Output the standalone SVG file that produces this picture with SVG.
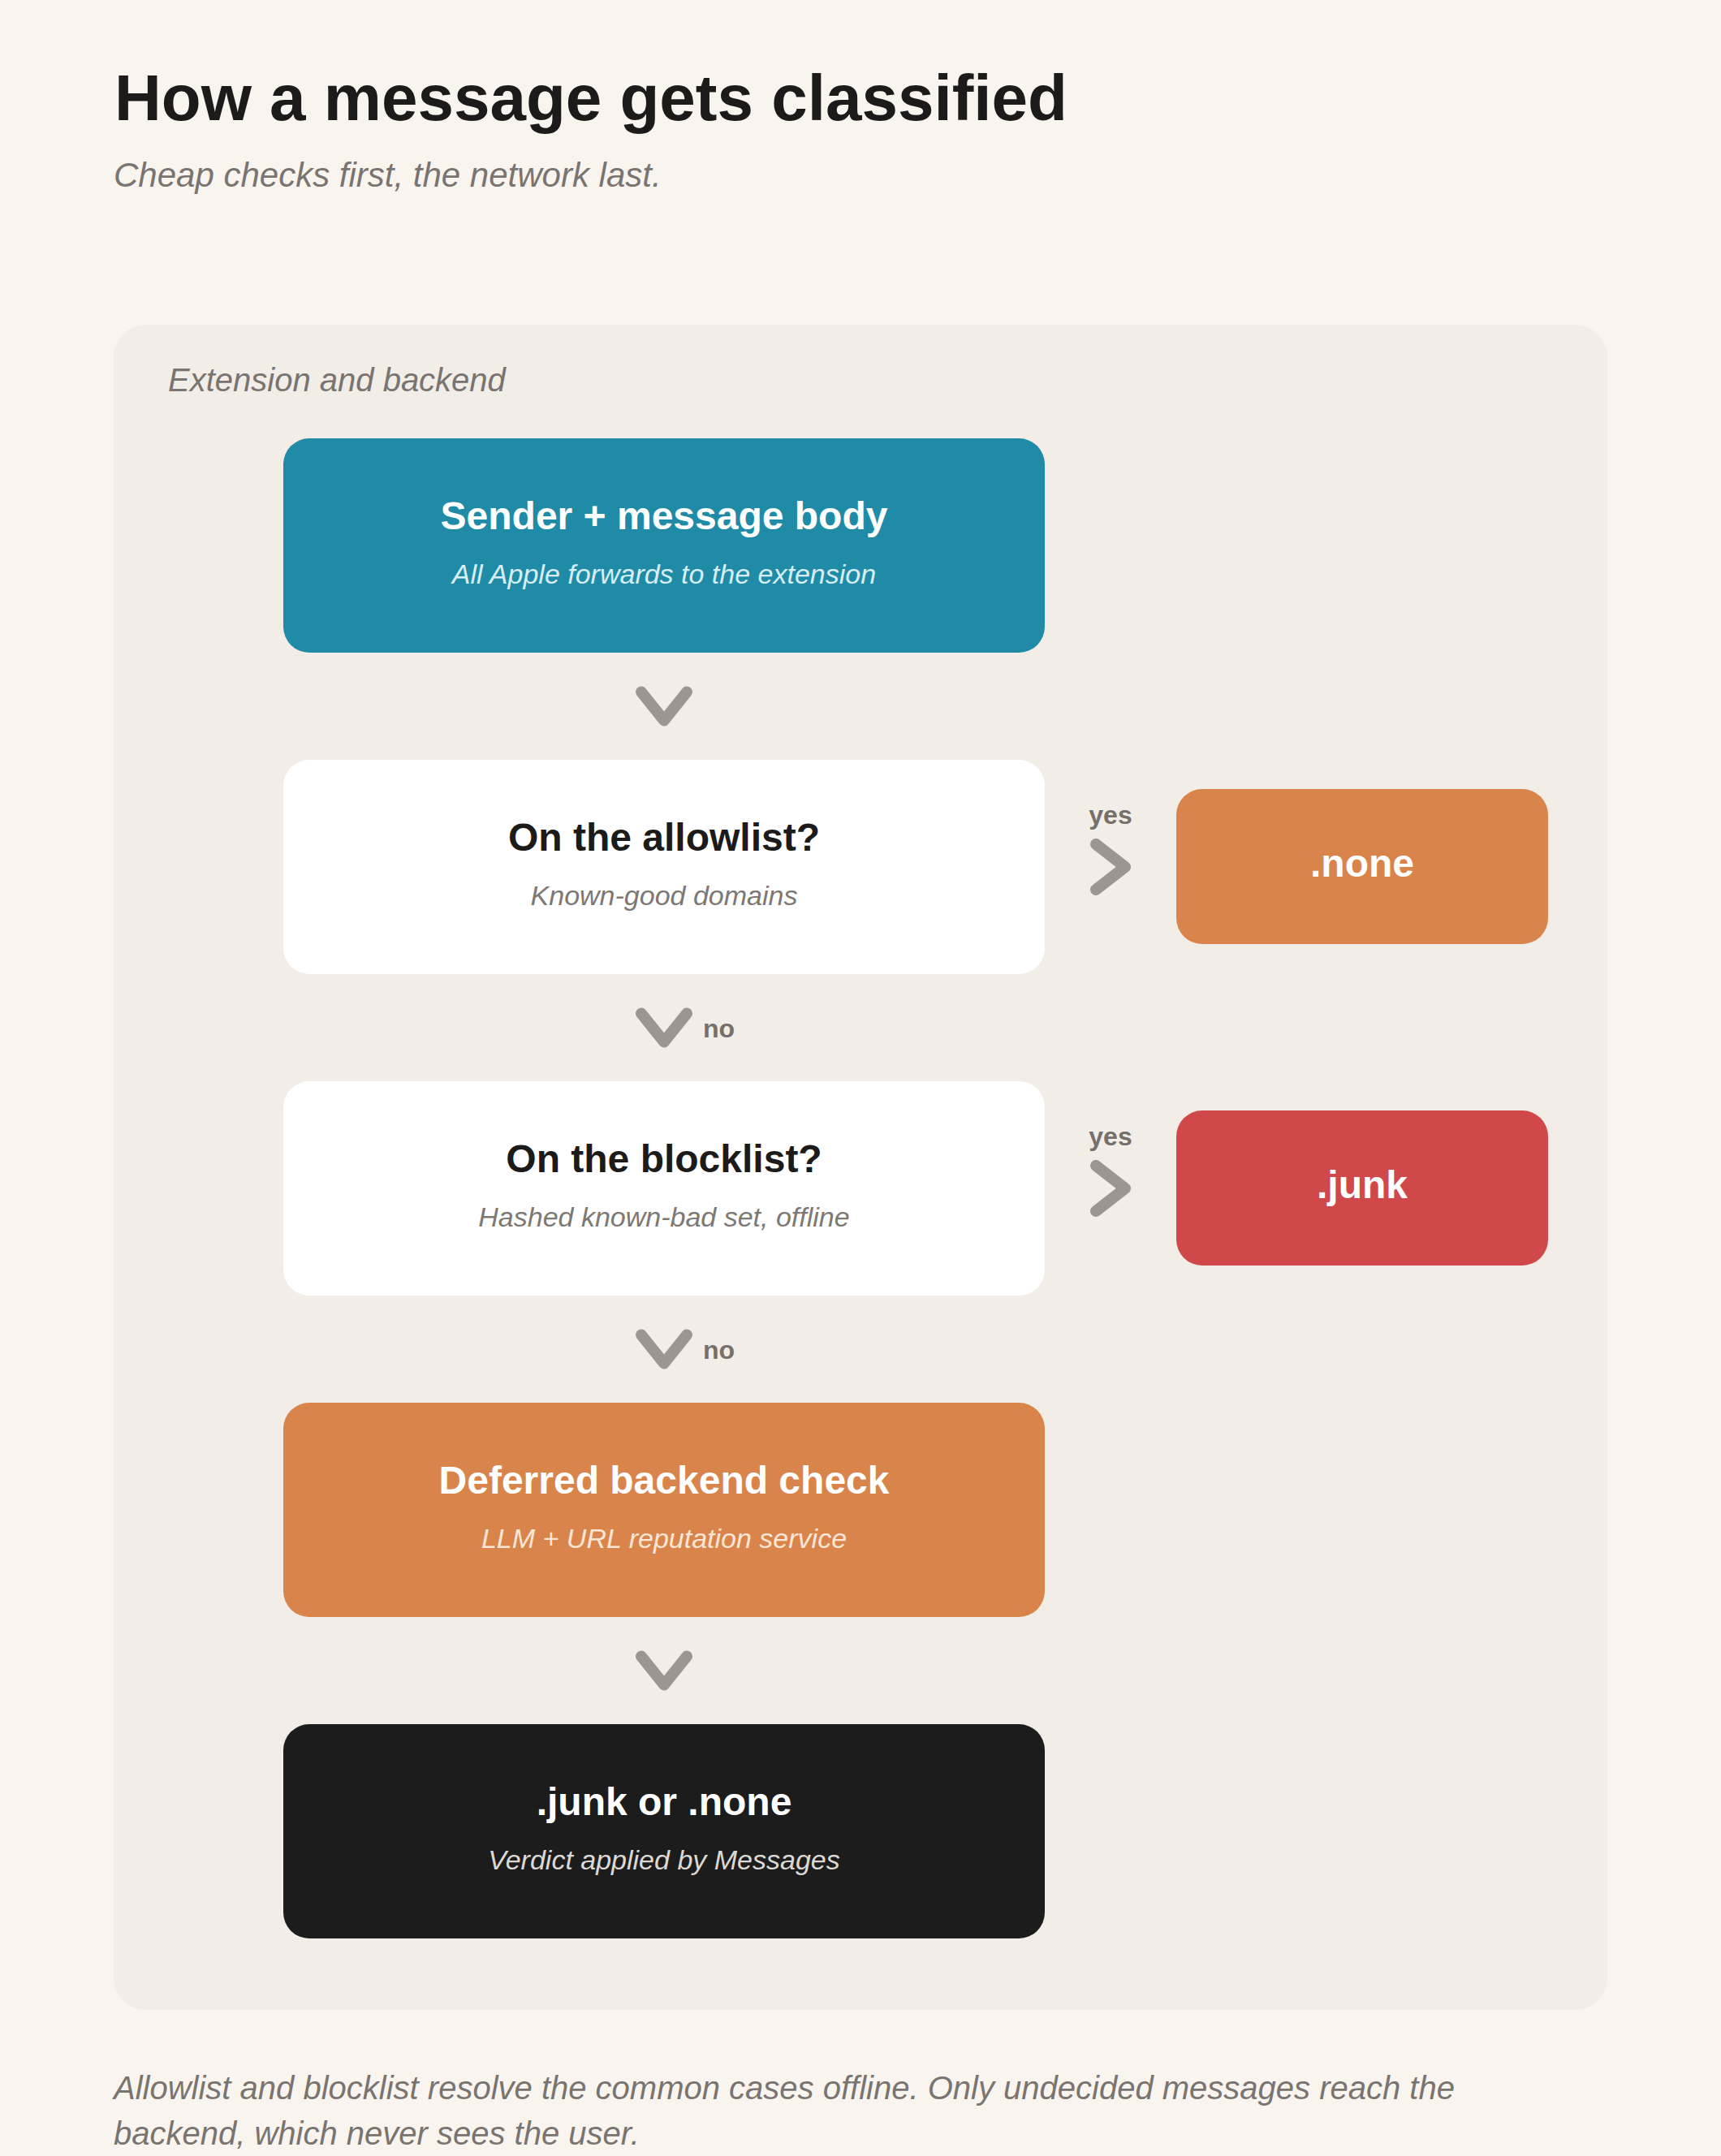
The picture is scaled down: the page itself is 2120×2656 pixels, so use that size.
<svg xmlns="http://www.w3.org/2000/svg" xmlns:xlink="http://www.w3.org/1999/xlink" width="2120" height="2656" viewBox="0 0 2120 2656">
  <style>
    .sans { font-family: "Liberation Sans", Arial, Helvetica, sans-serif; }
    .title { font-size: 80px; font-weight: 700; fill: #1c1b1a; }
    .subtitle { font-size: 42px; font-style: italic; fill: #7a7470; }
    .panel-label { font-size: 40px; font-style: italic; fill: #7a7470; }
    .footer { font-size: 40px; font-style: italic; fill: #7a7470; }
    .node-title { font-size: 48px; font-weight: 700; text-anchor: middle; }
    .node-sub { font-size: 34px; font-style: italic; text-anchor: middle; }
    .edge-label { font-size: 32px; font-weight: 700; fill: #75706b; }
    .chev { fill: none; stroke: #9b9790; stroke-width: 14; stroke-linecap: round; stroke-linejoin: round; }
  </style>
  <defs>
    <path id="chev-down" class="chev" d="M-28,-17.5 L0,17.5 L28,-17.5"/>
    <path id="chev-right" class="chev" d="M-18,-28 L18,0 L-18,28"/>
  </defs>

  <rect x="0" y="0" width="2120" height="2656" fill="#faf4ef"/>

  <text class="sans title" x="141" y="148">How a message gets classified</text>
  <text class="sans subtitle" x="140" y="230">Cheap checks first, the network last.</text>

  <g id="panel">
    <rect x="140" y="400" width="1840" height="2076" rx="40" ry="40" fill="#f2ede6"/>
    <text class="sans panel-label" x="207" y="482">Extension and backend</text>
  </g>

  <g id="connectors">
    <use xlink:href="#chev-down" href="#chev-down" x="818" y="870"/>
    <use xlink:href="#chev-down" href="#chev-down" x="818" y="1266"/>
    <text class="sans edge-label" x="866" y="1278">no</text>
    <use xlink:href="#chev-down" href="#chev-down" x="818" y="1662"/>
    <text class="sans edge-label" x="866" y="1674">no</text>
    <use xlink:href="#chev-down" href="#chev-down" x="818" y="2058"/>
    <text class="sans edge-label" x="1368" y="1015" text-anchor="middle">yes</text>
    <use xlink:href="#chev-right" href="#chev-right" x="1368" y="1068"/>
    <text class="sans edge-label" x="1368" y="1411" text-anchor="middle">yes</text>
    <use xlink:href="#chev-right" href="#chev-right" x="1368" y="1464"/>
  </g>

  <g id="node-input">
    <rect x="349" y="540" width="938" height="264" rx="32" ry="32" fill="#1f8ba7"/>
    <text class="sans node-title" x="818" y="652" fill="#ffffff">Sender + message body</text>
    <text class="sans node-sub" x="818" y="719" fill="#d6eef4">All Apple forwards to the extension</text>
  </g>

  <g id="node-allowlist">
    <rect x="349" y="936" width="938" height="264" rx="32" ry="32" fill="#ffffff"/>
    <text class="sans node-title" x="818" y="1048" fill="#1c1b1a">On the allowlist?</text>
    <text class="sans node-sub" x="818" y="1115" fill="#7d7873">Known-good domains</text>
  </g>

  <g id="node-none">
    <rect x="1449" y="972" width="458" height="191" rx="32" ry="32" fill="#d9844a"/>
    <text class="sans node-title" x="1678" y="1080" fill="#ffffff">.none</text>
  </g>

  <g id="node-blocklist">
    <rect x="349" y="1332" width="938" height="264" rx="32" ry="32" fill="#ffffff"/>
    <text class="sans node-title" x="818" y="1444" fill="#1c1b1a">On the blocklist?</text>
    <text class="sans node-sub" x="818" y="1511" fill="#7d7873">Hashed known-bad set, offline</text>
  </g>

  <g id="node-junk">
    <rect x="1449" y="1368" width="458" height="191" rx="32" ry="32" fill="#d0484a"/>
    <text class="sans node-title" x="1678" y="1476" fill="#ffffff">.junk</text>
  </g>

  <g id="node-backend">
    <rect x="349" y="1728" width="938" height="264" rx="32" ry="32" fill="#d9844a"/>
    <text class="sans node-title" x="818" y="1840" fill="#ffffff">Deferred backend check</text>
    <text class="sans node-sub" x="818" y="1907" fill="#fbe6d6">LLM + URL reputation service</text>
  </g>

  <g id="node-verdict">
    <rect x="349" y="2124" width="938" height="264" rx="32" ry="32" fill="#1c1c1c"/>
    <text class="sans node-title" x="818" y="2236" fill="#ffffff">.junk or .none</text>
    <text class="sans node-sub" x="818" y="2303" fill="#dcd8d3">Verdict applied by Messages</text>
  </g>

  <text class="sans footer" x="140" y="2586">Allowlist and blocklist resolve the common cases offline. Only undecided messages reach the</text>
  <text class="sans footer" x="140" y="2642">backend, which never sees the user.</text>
</svg>
